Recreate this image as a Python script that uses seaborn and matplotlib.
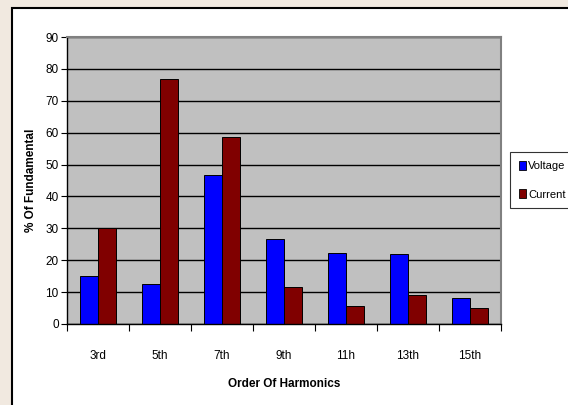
import matplotlib
matplotlib.use("Agg")
import matplotlib.pyplot as plt
import matplotlib.patches as mpatches
from matplotlib.ticker import FixedLocator
import seaborn as sns
import pandas as pd

harmonics = ["3rd", "5th", "7th", "9th", "11h", "13th", "15th"]
voltage = [15.1, 12.5, 46.6, 26.8, 22.3, 21.8, 8.0]
current = [30.2, 76.9, 58.5, 11.7, 5.8, 9.2, 5.0]
series = ["Voltage", "Current"]
colors = ["#0000ff", "#800000"]

df = pd.DataFrame({
    "Order": harmonics * 2,
    "Value": voltage + current,
    "Series": [series[0]] * len(harmonics) + [series[1]] * len(harmonics),
})

sns.set_theme(style="white")
fonts = ["Liberation Sans Narrow", "Liberation Sans", "DejaVu Sans"]
plt.rcParams["font.family"] = fonts
plt.rcParams["text.color"] = "black"
plt.rcParams["axes.labelcolor"] = "black"
plt.rcParams["xtick.color"] = "black"
plt.rcParams["ytick.color"] = "black"

W, H = 568, 405
fig = plt.figure(figsize=(W / 100, H / 100), dpi=100)
fig.patch.set_facecolor("#f1e9e0")

# white chart area box
box = mpatches.Rectangle((12 / W, -0.05), 1.1, (H - 8) / H + 0.05,
                         transform=fig.transFigure, facecolor="white",
                         edgecolor="black", linewidth=1.5, zorder=-10)
fig.add_artist(box)

ax = fig.add_axes([67 / W, (H - 324) / H, (501 - 67) / W, (324 - 37) / H])
ax.set_zorder(5)
ax.set_facecolor("#c0c0c0")

sns.barplot(data=df, x="Order", y="Value", hue="Series", palette=colors,
            order=harmonics, hue_order=series, width=0.57, ax=ax,
            edgecolor="black", linewidth=0.7, saturation=1, legend=False)

ax.set_ylim(0, 90)
ax.set_xlim(-0.5, len(harmonics) - 0.5)
ax.set_yticks(range(0, 91, 10))
ax.yaxis.grid(True, color="black", linewidth=1.0)
ax.set_axisbelow(True)
ax.tick_params(axis="y", length=4, width=0.8, color="black", labelsize=8.5,
               pad=2, left=True, labelcolor="black")
ax.tick_params(axis="x", which="major", length=0, labelsize=8.5, pad=19,
               labelcolor="black")
ax.xaxis.set_minor_locator(FixedLocator([i - 0.5 for i in range(len(harmonics) + 1)]))
ax.tick_params(axis="x", which="minor", length=5, width=0.8, color="black",
               bottom=True)

for s in ["left", "bottom"]:
    ax.spines[s].set_color("black")
    ax.spines[s].set_linewidth(1.0)
for s in ["top", "right"]:
    ax.spines[s].set_color("#808080")
    ax.spines[s].set_linewidth(1.5)

ax.set_xlabel("Order Of Harmonics", fontsize=8.5, fontweight="bold", labelpad=11,
              color="black")
ax.set_ylabel("% Of Fundamental", fontsize=8.5, fontweight="bold", labelpad=6,
              color="black")

handles = [mpatches.Patch(facecolor=c, edgecolor="black", linewidth=0.6, label=l)
           for c, l in zip(colors, series)]
leg = fig.legend(handles=handles, loc="upper left",
                 bbox_to_anchor=(510 / W, (H - 152) / H),
                 fontsize=8, frameon=True, fancybox=False,
                 handlelength=0.6, handleheight=0.9, handletextpad=0.25,
                 borderpad=0.8, labelspacing=1.6, borderaxespad=0)
leg._legend_box.align = "left"
leg.get_frame().set_edgecolor("black")
leg.get_frame().set_linewidth(0.8)
for t in leg.get_texts():
    t.set_color("black")

fig.savefig("out.png", dpi=100, facecolor=fig.get_facecolor())
